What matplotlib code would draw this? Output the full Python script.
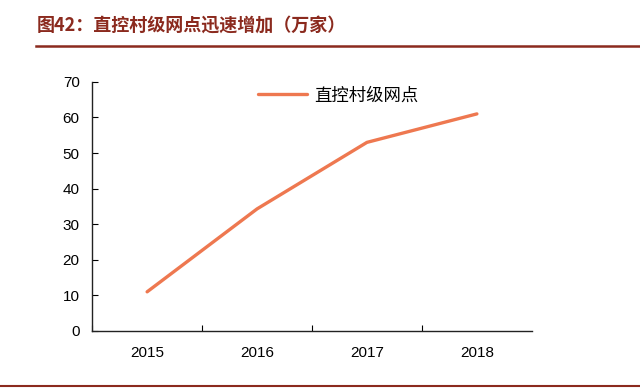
import matplotlib
matplotlib.use("Agg")
import matplotlib.pyplot as plt
from matplotlib.lines import Line2D

plt.rcParams['font.family'] = ['Noto Sans CJK SC', 'DejaVu Sans']

YEARS = ['2015', '2016', '2017', '2018']
OUTLETS = [11, 34.3, 53, 61]
SERIES_NAME = '直控村级网点'
TITLE = '图42：直控村级网点迅速增加（万家）'

LINE_COLOR = '#EE7850'
TITLE_COLOR = '#8B2A1E'

fig = plt.figure(figsize=(6.4, 3.88), dpi=100)
ax = fig.add_axes([0.144, 0.147, 0.687, 0.642])

x = list(range(1, len(YEARS) + 1))
ax.plot(x, OUTLETS, color=LINE_COLOR, lw=2.4, solid_capstyle='round',
        label=SERIES_NAME)

ax.set_xlim(0.5, len(YEARS) + 0.5)
ax.set_ylim(0, 70)
ax.set_yticks(range(0, 71, 10))
ax.set_xticks([i + 0.5 for i in range(len(YEARS))])
ax.set_xticklabels([])
ax.set_xticks(x, minor=True)
ax.set_xticklabels(YEARS, minor=True)
ax.tick_params(axis='x', which='minor', length=0, pad=11)
ax.tick_params(axis='x', which='major', direction='in', length=4)
ax.tick_params(axis='y', direction='in', length=4, pad=9)
for lab in ax.get_yticklabels() + ax.get_xticklabels(minor=True):
    lab.set_fontfamily('Liberation Sans')
    lab.set_fontsize(11)

for side in ['top', 'right']:
    ax.spines[side].set_visible(False)
for side in ['left', 'bottom']:
    ax.spines[side].set_color('#222222')
    ax.spines[side].set_linewidth(1.0)

ax.legend(loc='upper center', bbox_to_anchor=(0.56, 1.045), frameon=False,
          prop={'size': 12.5}, handlelength=2.8, handletextpad=0.4)

fig.text(0.058, 0.935, TITLE, color=TITLE_COLOR, fontsize=13,
         fontweight='bold', va='center')
fig.add_artist(Line2D([0.056, 1.0], [0.882, 0.882], color=TITLE_COLOR,
                      lw=1.8, transform=fig.transFigure))
fig.add_artist(Line2D([0.0, 1.0], [0.006, 0.006], color=TITLE_COLOR,
                      lw=1.5, transform=fig.transFigure))

fig.savefig('out.png', dpi=100)
